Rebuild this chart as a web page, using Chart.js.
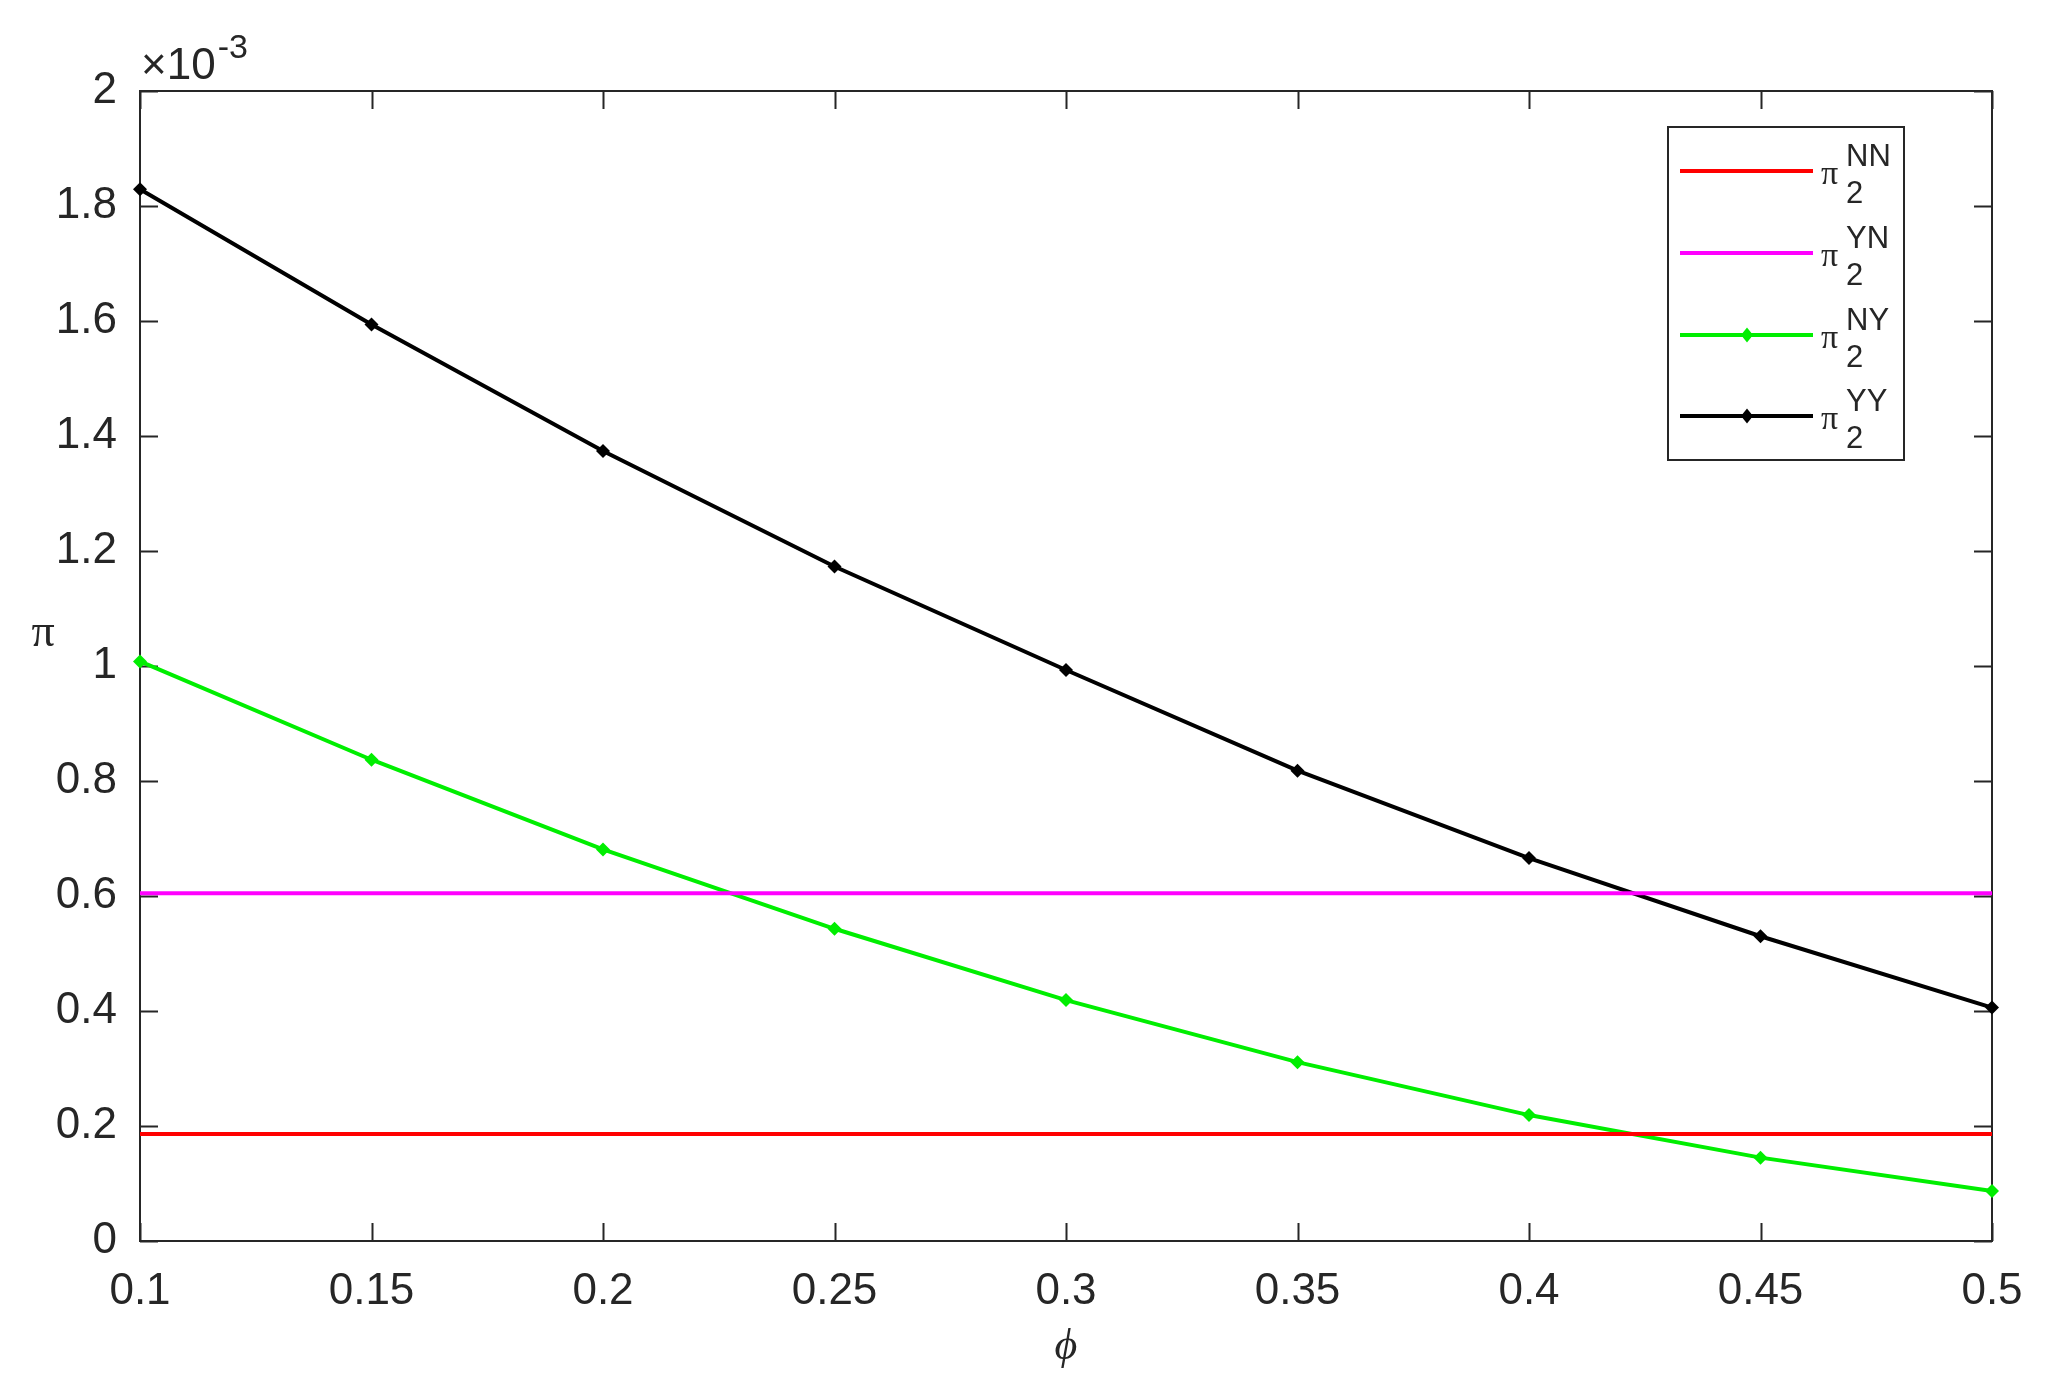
<!DOCTYPE html>
<html>
<head>
<meta charset="utf-8">
<script src="https://cdn.jsdelivr.net/npm/chart.js@4/dist/chart.umd.min.js"></script>
<style>
  html, body { margin: 0; padding: 0; background: #ffffff; }
  #wrap { width: 2051px; height: 1394px; }
</style>
</head>
<body>
<div id="wrap"><canvas id="c" width="2051" height="1394"></canvas></div>
<script>
// ---- data (values in units of 10^-3) ----
const phi = ['0.1', '0.15', '0.2', '0.25', '0.3', '0.35', '0.4', '0.45', '0.5'];
const piNN = [0.186, 0.186, 0.186, 0.186, 0.186, 0.186, 0.186, 0.186, 0.186];
const piYN = [0.605, 0.605, 0.605, 0.605, 0.605, 0.605, 0.605, 0.605, 0.605];
const piNY = [1.008, 0.837, 0.681, 0.543, 0.419, 0.311, 0.219, 0.145, 0.087];
const piYY = [1.829, 1.594, 1.374, 1.173, 0.993, 0.818, 0.666, 0.530, 0.406];
const seriesSup = ['NN', 'YN', 'NY', 'YY'];
const seriesSub = '2';
const yMin = 0, yMax = 2, yStep = 0.2;
const yExponent = '-3';
const xTitle = '\u03D5';
const yTitle = '\u03C0';

const TXT = '#262626';
const FONT = '"Liberation Sans", Arial, Helvetica, sans-serif';
const SERIF = '"Liberation Serif", "DejaVu Serif", serif';

const framePlugin = {
  id: 'frame',
  beforeDatasetsDraw(chart) {
    const { ctx, chartArea: a, scales } = chart;
    ctx.save();
    ctx.strokeStyle = TXT;
    ctx.lineWidth = 2;
    ctx.strokeRect(a.left, a.top, a.right - a.left, a.bottom - a.top);
    const tl = 18;
    ctx.beginPath();
    scales.x.ticks.forEach((t, i) => {
      const x = Math.round(scales.x.getPixelForTick(i)) + 0.5;
      ctx.moveTo(x, a.bottom); ctx.lineTo(x, a.bottom - tl);
      ctx.moveTo(x, a.top); ctx.lineTo(x, a.top + tl);
    });
    scales.y.ticks.forEach((t) => {
      const y = Math.round(scales.y.getPixelForValue(t.value)) + 0.5;
      ctx.moveTo(a.left, y); ctx.lineTo(a.left + tl, y);
      ctx.moveTo(a.right, y); ctx.lineTo(a.right - tl, y);
    });
    ctx.stroke();
    ctx.restore();
  },
  afterDraw(chart) {
    const { ctx, chartArea: a, data } = chart;
    ctx.save();
    ctx.fillStyle = TXT;
    // exponent label
    ctx.font = '44px ' + FONT;
    ctx.textBaseline = 'alphabetic';
    ctx.textAlign = 'left';
    ctx.fillText('\u00D710', a.left + 1, a.top - 12);
    const w = ctx.measureText('\u00D710').width;
    ctx.font = '34px ' + FONT;
    ctx.fillText(yExponent, a.left + 1 + w + 2, a.top - 33);
    // axis titles
    ctx.font = 'italic 44px ' + SERIF;
    ctx.textAlign = 'center';
    ctx.textBaseline = 'middle';
    ctx.fillText(xTitle, (a.left + a.right) / 2, 1347);
    ctx.font = '46px ' + SERIF;
    ctx.fillText(yTitle, 43, 634);
    // legend
    const bx = 1668, by = 127, bw = 236, bh = 333;
    ctx.fillStyle = '#ffffff';
    ctx.fillRect(bx, by, bw, bh);
    ctx.strokeStyle = TXT;
    ctx.lineWidth = 2;
    ctx.strokeRect(bx, by, bw, bh);
    const rows = [171, 253, 335, 416];
    data.datasets.forEach((ds, i) => {
      const L = rows[i];
      ctx.strokeStyle = ds.borderColor;
      ctx.lineWidth = 4;
      ctx.beginPath();
      ctx.moveTo(1680, L); ctx.lineTo(1813, L);
      ctx.stroke();
      if (ds.pointRadius > 0) {
        ctx.fillStyle = ds.borderColor;
        const r = 7.5;
        ctx.beginPath();
        ctx.moveTo(1747, L - r); ctx.lineTo(1747 + r * 0.8, L);
        ctx.lineTo(1747, L + r); ctx.lineTo(1747 - r * 0.8, L);
        ctx.closePath(); ctx.fill();
      }
      ctx.fillStyle = TXT;
      ctx.textAlign = 'left';
      ctx.textBaseline = 'middle';
      ctx.font = '34px ' + SERIF;
      ctx.fillText('\u03C0', 1821, L + 4);
      ctx.font = '31px ' + FONT;
      ctx.fillText(seriesSub, 1846, L + 23);
      ctx.fillText(seriesSup[i], 1846, L - 14);
    });
    ctx.restore();
  }
};

const mk = (label, vals, color, markers) => ({
  label: label,
  data: vals,
  borderColor: color,
  backgroundColor: color,
  borderWidth: 4,
  pointRadius: markers ? 7 : 0,
  pointHoverRadius: markers ? 7 : 0,
  pointStyle: 'rectRot',
  pointBorderWidth: 0,
  tension: 0,
  fill: false,
  clip: 10
});

new Chart(document.getElementById('c'), {
  type: 'line',
  data: {
    labels: phi,
    datasets: [
      mk('\u03C0_2^NN', piNN, '#ff0000', false),
      mk('\u03C0_2^YN', piYN, '#ff00ff', false),
      mk('\u03C0_2^NY', piNY, '#00ee00', true),
      mk('\u03C0_2^YY', piYY, '#000000', true)
    ]
  },
  options: {
    responsive: false,
    animation: false,
    events: [],
    layout: { padding: { top: 91, right: 59, left: 0, bottom: 0 } },
    plugins: { legend: { display: false }, tooltip: { enabled: false } },
    scales: {
      x: {
        type: 'category',
        offset: false,
        grid: { display: false, drawTicks: false },
        border: { display: false },
        ticks: { color: TXT, font: { size: 44, family: FONT }, padding: 24, maxRotation: 0, autoSkip: false },
        afterFit(s) { s.height = 153; }
      },
      y: {
        min: yMin, max: yMax,
        grid: { display: false, drawTicks: false },
        border: { display: false },
        ticks: {
          stepSize: yStep,
          color: TXT,
          font: { size: 44, family: FONT },
          padding: 23,
          callback: (v) => String(+v.toFixed(1))
        },
        afterFit(s) { s.width = 140; }
      }
    }
  },
  plugins: [framePlugin]
});
</script>
</body>
</html>
